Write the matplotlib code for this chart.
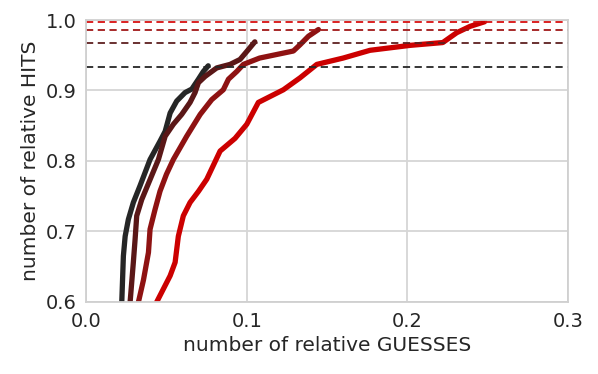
import matplotlib
matplotlib.use("Agg")
import matplotlib.pyplot as plt
import seaborn as sns

sns.set_style("whitegrid")
plt.rcParams['font.family'] = ['DejaVu Sans']

# series data (relative guesses, relative hits)
x_black = [0.0222, 0.0232, 0.0243, 0.0263, 0.0294, 0.0336, 0.0398, 0.046, 0.0492, 0.0523, 0.0564, 0.0616, 0.0658, 0.0699, 0.073, 0.076]
y_black = [0.600, 0.665, 0.693, 0.717, 0.741, 0.765, 0.802, 0.828, 0.842, 0.868, 0.885, 0.897, 0.902, 0.916, 0.927, 0.935]

x_brown = [0.0274, 0.0294, 0.0305, 0.0315, 0.0346, 0.0377, 0.045, 0.0492, 0.0543, 0.0595, 0.0647, 0.0678, 0.0699, 0.0741, 0.0813, 0.0896, 0.0958, 0.101, 0.105]
y_brown = [0.600, 0.656, 0.689, 0.722, 0.745, 0.762, 0.802, 0.835, 0.852, 0.866, 0.883, 0.897, 0.911, 0.920, 0.932, 0.937, 0.944, 0.958, 0.969]

x_dred = [0.0326, 0.0357, 0.0388, 0.0398, 0.0429, 0.046, 0.0500, 0.0543, 0.0626, 0.071, 0.0782, 0.0854, 0.0886, 0.0938, 0.0979, 0.108, 0.129, 0.1332, 0.1384, 0.1446]
y_dred = [0.600, 0.631, 0.670, 0.703, 0.731, 0.757, 0.781, 0.802, 0.835, 0.866, 0.887, 0.901, 0.916, 0.927, 0.937, 0.946, 0.956, 0.965, 0.977, 0.9865]

x_red = [0.044, 0.0523, 0.0554, 0.0574, 0.0605, 0.0647, 0.0700, 0.0751, 0.0834, 0.0927, 0.100, 0.1072, 0.1228, 0.1332, 0.1436, 0.160, 0.1767, 0.2016, 0.222, 0.2307, 0.239, 0.248]
y_red = [0.600, 0.637, 0.656, 0.693, 0.722, 0.741, 0.757, 0.774, 0.814, 0.832, 0.852, 0.883, 0.901, 0.918, 0.937, 0.946, 0.957, 0.964, 0.968, 0.982, 0.991, 0.9975]

max_hits = [0.934, 0.968, 0.986, 0.997]
colors = ['#262626', '#5a1717', '#8e1212', '#cc0000']
dash_colors = ['#262626', '#5e2020', '#a01818', '#d81010']

fig = plt.figure(figsize=(5.98, 3.74), dpi=100)
ax = fig.add_axes([0.144, 0.193, 0.806, 0.7535])

for xs, ys, c in zip([x_black, x_brown, x_dred, x_red], [y_black, y_brown, y_dred, y_red], colors):
    ax.plot(xs, ys, color=c, lw=3.8, solid_capstyle='round', solid_joinstyle='round')

for h, c in zip(max_hits, dash_colors):
    ax.axhline(h, color=c, lw=1.3, ls=(0, (4, 2.5)))

ax.set_xlim(0.0, 0.3)
ax.set_ylim(0.6, 1.0)
ax.set_xticks([0.0, 0.1, 0.2, 0.3])
ax.set_yticks([0.6, 0.7, 0.8, 0.9, 1.0])
ax.tick_params(labelsize=14, colors='#262626')
ax.grid(True, color='#d6d6d6', lw=1.3)
ax.set_xlabel('number of relative GUESSES', fontsize=14.5, color='#262626', labelpad=4)
ax.set_ylabel('number of relative HITS', fontsize=14.5, color='#262626', labelpad=4)
for s in ax.spines.values():
    s.set_color('#d0d0d0')
    s.set_linewidth(1.3)

fig.savefig('out.png', dpi=100)
